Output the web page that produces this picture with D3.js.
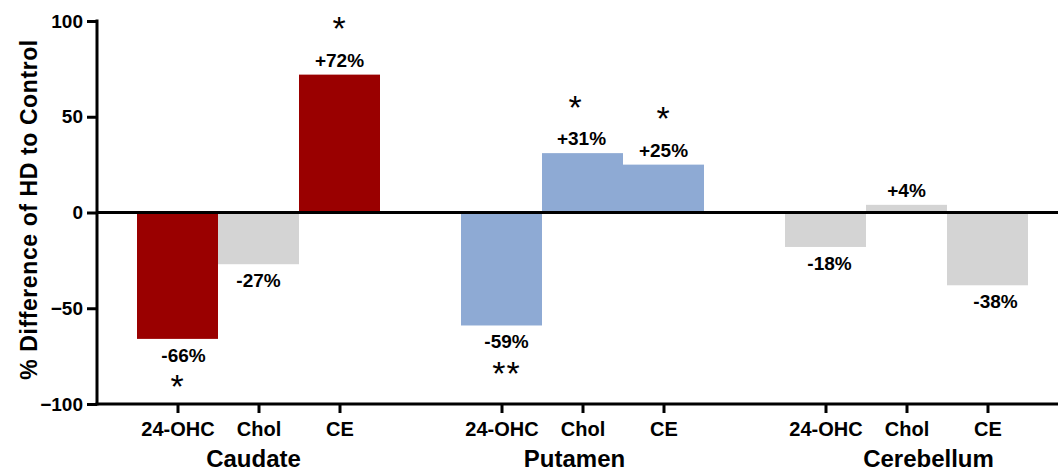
<!DOCTYPE html>
<html>
<head>
<meta charset="utf-8">
<script src="https://cdn.jsdelivr.net/npm/d3@7"></script>
<style>
  html, body { margin: 0; padding: 0; background: #fff; }
  svg { display: block; font-family: "Liberation Sans", Arial, Helvetica, sans-serif; font-weight: bold; }
</style>
</head>
<body>
<svg id="chart" width="1058" height="473"></svg>
<script>
// Regions, compounds and the % difference of HD relative to control
const regions = ["Caudate", "Putamen", "Cerebellum"];
const compounds = ["24-OHC", "Chol", "CE"];
const caudateValues = [-66, -27, 72];
const putamenValues = [-59, 31, 25];
const cerebellumValues = [-18, 4, -38];
// Significance markers per bar
const caudateStars = ["*", "", "*"];
const putamenStars = ["**", "*", "*"];
const cerebellumStars = ["", "", ""];
const yTicks = [-100, -50, 0, 50, 100];

// Layout: small horizontal nudges for hand-placed annotations
const valueLabelDx = [[6, 0, 0], [5, -1, 0], [4, 0, 8]];
const starDx = [[0, 0, 0], [5, -7, 0], [0, 0, 0]];
const regionLabelDx = [-5, -8, 22];

const valuesByRegion = [caudateValues, putamenValues, cerebellumValues];
const starsByRegion = [caudateStars, putamenStars, cerebellumStars];

const bars = [];
regions.forEach((r, i) => {
  compounds.forEach((c, j) => {
    bars.push({
      region: r, compound: c, key: r + "|" + c,
      value: valuesByRegion[i][j], star: starsByRegion[i][j],
      ri: i, ci: j
    });
  });
});

const colors = {
  red: "#9a0000",
  blue: "#8eaad4",
  grey: "#d4d4d4"
};
// bar fill per region / compound
const fillFor = d => {
  if (d.region === "Cerebellum") return colors.grey;
  if (d.region === "Caudate") return d.compound === "Chol" ? colors.grey : colors.red;
  return colors.blue;
};

const svg = d3.select("#chart");
const axisX = 97, rightEdge = 1058;

const y = d3.scaleLinear().domain([-100, 100]).range([404, 21]);
const xRegion = d3.scaleBand().domain(regions).range([137, 1028]).paddingInner(0.25).paddingOuter(0);
const xCompound = d3.scaleBand().domain(compounds).range([0, xRegion.bandwidth()]).padding(0);
const barX = d => xRegion(d.region) + xCompound(d.compound);
const barCenter = d => barX(d) + xCompound.bandwidth() / 2;

// ordinal scale of bar centres for the category axis
const xTick = d3.scaleOrdinal().domain(bars.map(d => d.key)).range(bars.map(barCenter));

// bars
svg.append("g").selectAll("rect").data(bars).join("rect")
  .attr("x", barX)
  .attr("width", xCompound.bandwidth())
  .attr("y", d => y(Math.max(0, d.value)))
  .attr("height", d => Math.abs(y(d.value) - y(0)))
  .attr("fill", fillFor);

// y axis
const yAxis = svg.append("g")
  .attr("transform", `translate(${axisX},0)`)
  .call(d3.axisLeft(y).tickValues(yTicks).tickFormat(d3.format("d")).tickSize(10).tickSizeOuter(0).tickPadding(4));
yAxis.select(".domain").attr("stroke", "#000").attr("stroke-width", 3)
  .attr("d", `M0,${y(100) - 1.5}V${y(-100) + 1.5}`);
yAxis.selectAll(".tick line").attr("stroke", "#000").attr("stroke-width", 3);
yAxis.selectAll(".tick text").attr("fill", "#000")
  .style("font-size", "19px").style("font-weight", "bold").style("font-family", "Liberation Sans, Arial, sans-serif");

// x axis (category ticks)
const xAxis = svg.append("g")
  .attr("transform", `translate(0,${y(-100)})`)
  .call(d3.axisBottom(xTick).tickSize(9).tickPadding(6).tickFormat(k => k.split("|")[1]));
xAxis.select(".domain").remove();
xAxis.selectAll(".tick line").attr("stroke", "#000").attr("stroke-width", 3);
xAxis.selectAll(".tick text").attr("fill", "#000").attr("dy", null).attr("y", 32)
  .style("font-size", "20px").style("font-weight", "bold").style("font-family", "Liberation Sans, Arial, sans-serif");

// bottom axis line and zero line
svg.append("line")
  .attr("x1", axisX - 1.5).attr("x2", rightEdge)
  .attr("y1", y(-100)).attr("y2", y(-100))
  .attr("stroke", "#000").attr("stroke-width", 3);
svg.append("line")
  .attr("x1", axisX).attr("x2", rightEdge)
  .attr("y1", y(0)).attr("y2", y(0))
  .attr("stroke", "#000").attr("stroke-width", 3);

// value labels
const fmt = v => (v > 0 ? "+" : "") + v + "%";
const labelY = d => d.value >= 0 ? y(d.value) - 8 : y(d.value) + 23;
svg.append("g").selectAll("text").data(bars).join("text")
  .attr("x", d => barCenter(d) + valueLabelDx[d.ri][d.ci])
  .attr("y", labelY)
  .attr("text-anchor", "middle")
  .style("font-size", "19px")
  .attr("fill", "#000")
  .text(d => fmt(d.value));

// significance stars
const starSize = 34;
svg.append("g").selectAll("text").data(bars.filter(d => d.star)).join("text")
  .attr("x", d => barCenter(d) + starDx[d.ri][d.ci])
  .attr("y", d => (d.value >= 0 ? labelY(d) - 46 : labelY(d) + 17) + 0.57 * starSize)
  .attr("text-anchor", "middle")
  .style("font-size", starSize + "px")
  .style("font-weight", "normal")
  .style("letter-spacing", "1px")
  .attr("fill", "#000")
  .text(d => d.star);

// region labels
svg.append("g").selectAll("text").data(regions).join("text")
  .attr("x", (r, i) => xRegion(r) + xRegion.bandwidth() / 2 + regionLabelDx[i])
  .attr("y", 467)
  .attr("text-anchor", "middle")
  .style("font-size", "24px")
  .attr("fill", "#000")
  .text(r => r);

// y axis title
svg.append("text")
  .attr("transform", `translate(37,${(y(100) + y(-100)) / 2 - 3}) rotate(-90)`)
  .attr("text-anchor", "middle")
  .style("font-size", "23px")
  .style("letter-spacing", "0.6px")
  .attr("fill", "#000")
  .text("% Difference of HD to Control");
</script>
</body>
</html>
